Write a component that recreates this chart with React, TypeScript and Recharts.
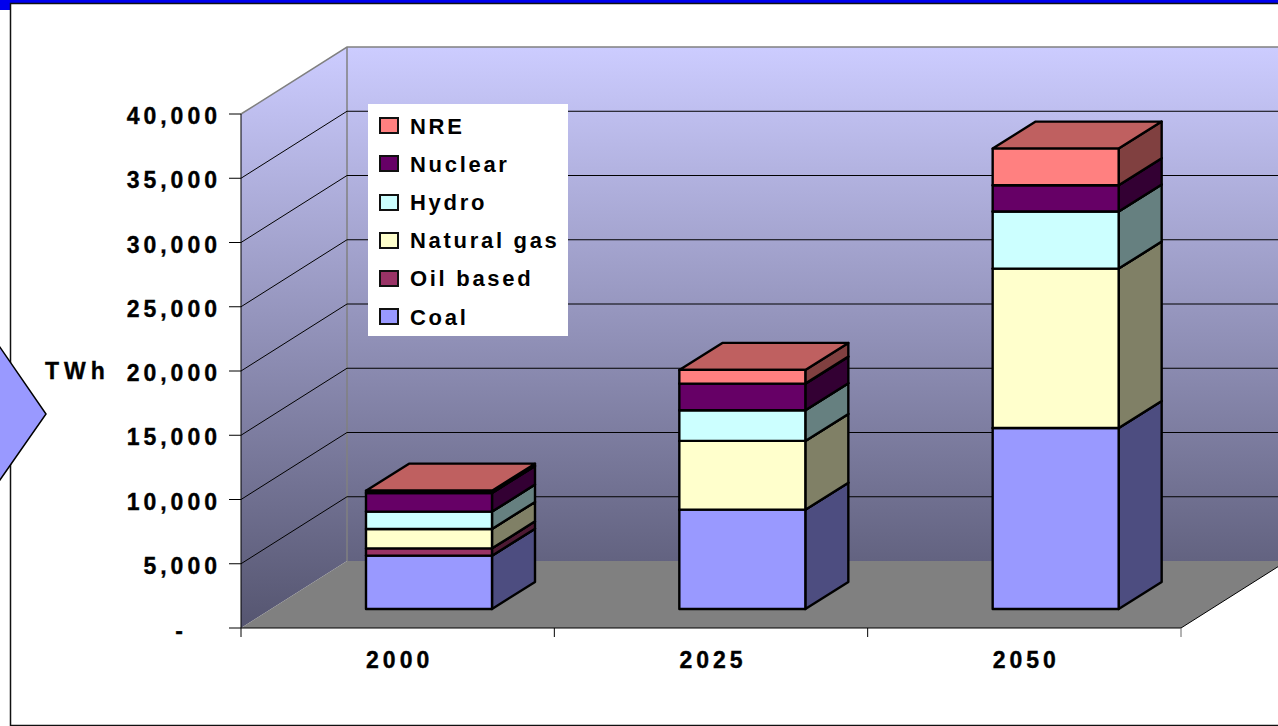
import React from 'react';
import { BarChart, Bar, XAxis, YAxis, CartesianGrid, Legend, Label } from 'recharts';

const years = ['2000', '2025', '2050'];
const coal = [4150, 7730, 14090];
const oilBased = [570, 0, 0];
const naturalGas = [1510, 5350, 12400];
const hydro = [1350, 2390, 4440];
const nuclear = [1450, 2070, 2050];
const nre = [180, 1066, 2850];
const valueTicks = [0, 5000, 10000, 15000, 20000, 25000, 30000, 35000, 40000];

const data = years.map((year, i) => ({
  year,
  Coal: coal[i],
  'Oil based': oilBased[i],
  'Natural gas': naturalGas[i],
  Hydro: hydro[i],
  Nuclear: nuclear[i],
  NRE: nre[i],
}));

// front, side and top shades of each stack segment
const series = [
  { name: 'Coal', front: '#9999ff', side: '#4d4d80', top: '#7373bf' },
  { name: 'Oil based', front: '#993366', side: '#4d1a33', top: '#73264d' },
  { name: 'Natural gas', front: '#ffffcc', side: '#808066', top: '#bfbf99' },
  { name: 'Hydro', front: '#ccffff', side: '#668080', top: '#99bfbf' },
  { name: 'Nuclear', front: '#660066', side: '#330033', top: '#4d004d' },
  { name: 'NRE', front: '#ff8080', side: '#804040', top: '#bf6060' },
];

const WIDTH = 1278;
const HEIGHT = 726;
const LEFT = 241;
const TOP = 114;
const BOTTOM = 628;
const RIGHT = 1181;
// offset of the back wall from the axis plane
const WALL_DX = 106;
const WALL_DY = -67;
// offset of the bars from the axis plane, and their own depth
const BAR_DX = 31;
const BAR_DY = -19;
const DEPTH_DX = 43;
const DEPTH_DY = -27;
const BAND = (RIGHT - LEFT) / years.length;

const FONT = '"Liberation Sans", Arial, sans-serif';
const axisText = {
  fontFamily: FONT,
  fontSize: 23,
  fontWeight: 700,
  letterSpacing: 4,
  fill: '#000',
  stroke: '#000',
  strokeWidth: 0.35,
};

function Block(props: any) {
  const { x, y, width, height, colors } = props;
  if (!height || height <= 0) return <g />;
  const l = x + BAR_DX;
  const r = l + width;
  const t = y + BAR_DY;
  const b = t + height;
  const stroke = { stroke: '#000', strokeWidth: 2.4, strokeLinejoin: 'round' as const };
  return (
    <g>
      <polygon
        points={`${r},${t} ${r + DEPTH_DX},${t + DEPTH_DY} ${r + DEPTH_DX},${b + DEPTH_DY} ${r},${b}`}
        fill={colors.side}
        {...stroke}
      />
      <polygon
        points={`${l},${t} ${l + DEPTH_DX},${t + DEPTH_DY} ${r + DEPTH_DX},${t + DEPTH_DY} ${r},${t}`}
        fill={colors.top}
        {...stroke}
      />
      <rect x={l} y={t} width={width} height={height} fill={colors.front} {...stroke} />
    </g>
  );
}

function ValueTick({ x, y, payload }: any) {
  const zero = payload.value === 0;
  return (
    <text x={zero ? x - 34 : x} y={y + (zero ? 11 : 10)} textAnchor="end" {...axisText}>
      {zero ? '-' : payload.value.toLocaleString('en-US')}
    </text>
  );
}

function YearTick({ x, payload, index }: any) {
  const edge = x - BAND / 2;
  return (
    <g>
      <line x1={edge} x2={edge} y1={BOTTOM} y2={BOTTOM + 9} stroke="#000" />
      {index === years.length - 1 && (
        <line x1={x + BAND / 2} x2={x + BAND / 2} y1={BOTTOM} y2={BOTTOM + 9} stroke="#666" />
      )}
      <text x={x + 2} y={668} textAnchor="middle" {...axisText}>
        {payload.value}
      </text>
    </g>
  );
}

// horizontal grid line carried round the side wall and along the back wall
function WallLine({ x1, y1 }: any) {
  if (y1 >= BOTTOM - 1 || y1 <= TOP + 1) return <g />;
  return (
    <polyline
      points={`${x1},${y1} ${x1 + WALL_DX},${y1 + WALL_DY} ${WIDTH + 20},${y1 + WALL_DY}`}
      fill="none"
      stroke="#000"
      strokeWidth={1}
    />
  );
}

function LegendBox() {
  return (
    <div style={{ width: 200, height: 232, background: '#fff', paddingTop: 2.6, boxSizing: 'border-box' }}>
      {[...series].reverse().map((s) => (
        <div key={s.name} style={{ height: 38.2, display: 'flex', alignItems: 'center' }}>
          <span
            style={{
              display: 'block',
              marginLeft: 11,
              width: 20,
              height: 17,
              boxSizing: 'border-box',
              border: '2px solid #111',
              background: s.front,
            }}
          />
          <span
            style={{
              marginLeft: 11,
              marginTop: 2,
              fontFamily: FONT,
              fontSize: 22,
              fontWeight: 700,
              letterSpacing: 2.7,
              color: '#000',
              whiteSpace: 'nowrap',
            }}
          >
            {s.name}
          </span>
        </div>
      ))}
    </div>
  );
}

// slide frame, arrow and the walls and floor behind the plot
function Backdrop() {
  const backTop = TOP + WALL_DY;
  const backBottom = BOTTOM + WALL_DY;
  const backLeft = LEFT + WALL_DX;
  const backRight = RIGHT + WALL_DX;
  return (
    <svg width={WIDTH} height={HEIGHT} style={{ position: 'absolute', left: 0, top: 0 }}>
      <defs>
        <linearGradient id="wall" gradientUnits="userSpaceOnUse" x1="0" y1={backTop} x2="0" y2={BOTTOM}>
          <stop offset="0" stopColor="#ccccff" />
          <stop offset="1" stopColor="#555570" />
        </linearGradient>
      </defs>
      <rect x={0} y={0} width={WIDTH} height={3} fill="#0000ee" />
      <rect x={0} y={0} width={10} height={10} fill="#0000ee" />
      <polyline points={`${WIDTH},3.5 10.5,3.5 10.5,725.5 ${WIDTH},725.5`} fill="#fff" stroke="#111" strokeWidth={1.5} />
      <polygon
        points={`-5,340 46,414 -5,487`}
        fill="#9999ff"
        stroke="#000"
        strokeWidth={1.5}
      />
      <polygon
        points={`${LEFT},${TOP} ${backLeft},${backTop} ${backRight},${backTop} ${backRight},${backBottom} ${backLeft},${backBottom} ${LEFT},${BOTTOM}`}
        fill="url(#wall)"
      />
      <polygon
        points={`${LEFT},${BOTTOM} ${backLeft},${backBottom} ${backRight},${backBottom} ${RIGHT},${BOTTOM}`}
        fill="#808080"
      />
      <line x1={RIGHT} y1={BOTTOM} x2={backRight} y2={backBottom} stroke="#000" />
      <polyline
        points={`${LEFT},${TOP} ${backLeft},${backTop} ${WIDTH},${backTop}`}
        fill="none"
        stroke="#808080"
        strokeWidth={1.5}
      />
      <line x1={backLeft} y1={backTop} x2={backLeft} y2={backBottom} stroke="#808080" strokeWidth={1.5} />
    </svg>
  );
}

export default function App() {
  return (
    <div style={{ position: 'absolute', left: 0, top: 0, width: WIDTH, height: HEIGHT, overflow: 'hidden', background: '#fff' }}>
      <Backdrop />
      <BarChart
        width={WIDTH}
        height={HEIGHT}
        data={data}
        barSize={126}
        margin={{ top: TOP, right: WIDTH - RIGHT, bottom: 0, left: 0 }}
        style={{ position: 'absolute', left: 0, top: 0 }}
      >
        <CartesianGrid vertical={false} horizontal={WallLine} syncWithTicks />
        <XAxis
          dataKey="year"
          height={HEIGHT - BOTTOM}
          tickLine={false}
          axisLine={{ stroke: '#000' }}
          tick={YearTick}
          interval={0}
        />
        <YAxis
          width={LEFT}
          domain={[0, 40000]}
          ticks={valueTicks}
          interval={0}
          tickSize={12}
          tickMargin={8}
          tickLine={{ stroke: '#000' }}
          axisLine={{ stroke: '#000' }}
          tick={ValueTick}
        >
          <Label
            value="TWh"
            position="insideLeft"
            offset={45}
            style={{ ...axisText, letterSpacing: 5 }}
          />
        </YAxis>
        <Legend
          layout="vertical"
          align="center"
          verticalAlign="middle"
          content={LegendBox}
          wrapperStyle={{ left: 368, top: 104, width: 200, height: 232 }}
        />
        {series.map((s) => (
          <Bar
            key={s.name}
            dataKey={s.name}
            stackId="energy"
            isAnimationActive={false}
            fill={s.front}
            shape={(props: any) => <Block {...props} colors={s} />}
          />
        ))}
      </BarChart>
    </div>
  );
}
